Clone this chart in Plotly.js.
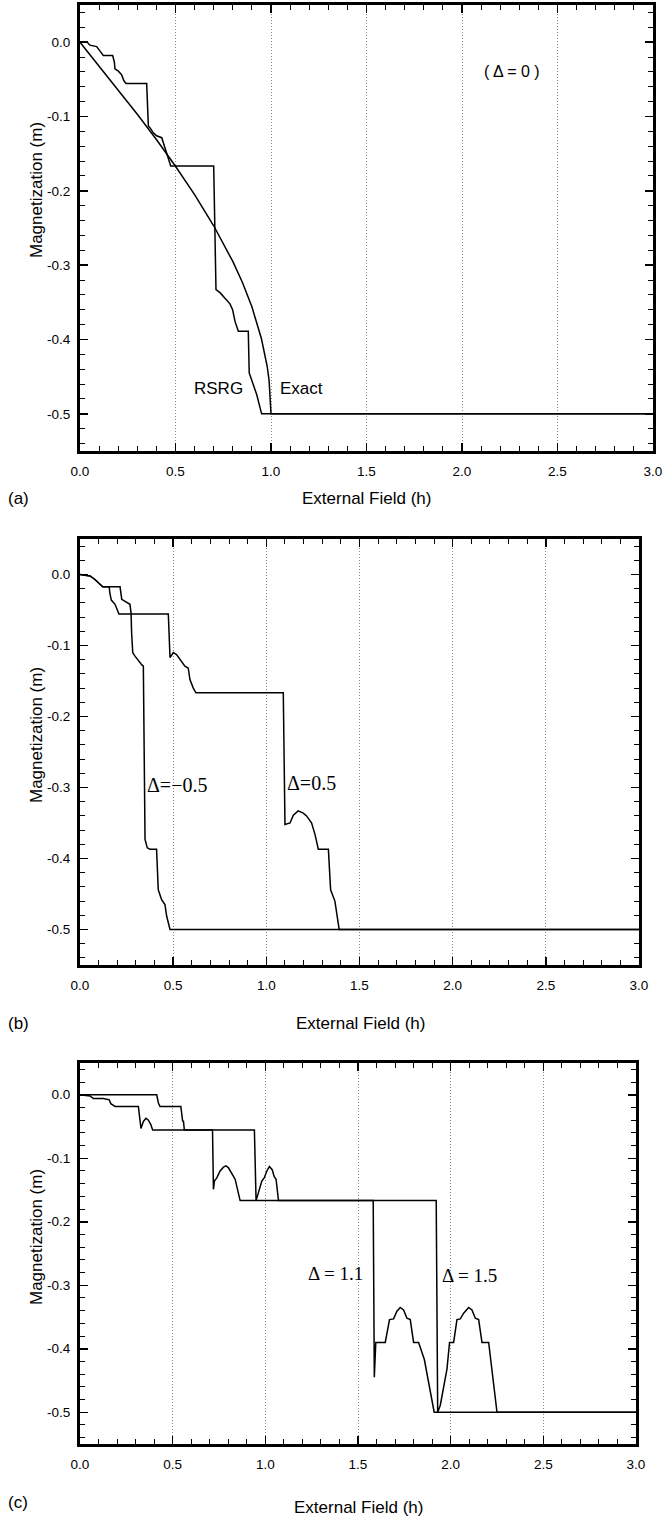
<!DOCTYPE html>
<html>
<head>
<meta charset="utf-8">
<script src="https://cdn.plot.ly/plotly-3.0.1.min.js"></script>
<style>html,body{margin:0;padding:0;background:#fff}#plot{width:663px;height:1520px}</style>
</head>
<body>
<div id="plot"></div>
<script>
// ---- tick labels ----
const xTickVals = [0, 0.5, 1, 1.5, 2, 2.5, 3];
const xTickText = ["0.0", "0.5", "1.0", "1.5", "2.0", "2.5", "3.0"];
const yTickVals = [0, -0.1, -0.2, -0.3, -0.4, -0.5];
const yTickText = ["0.0", "-0.1", "-0.2", "-0.3", "-0.4", "-0.5"];

// ---- panel (a): Delta = 0 ----
const exactH = [0, 0.1, 0.2, 0.3, 0.4, 0.5, 0.6, 0.7, 0.8, 0.85, 0.9, 0.95, 0.98, 0.99, 1.0, 3.0];
const exactM = [0, -0.032, -0.064, -0.097, -0.131, -0.167, -0.205, -0.247, -0.295, -0.323, -0.356, -0.399, -0.436, -0.455, -0.5, -0.5];
const rsrgH = [0, 0.038, 0.052, 0.087, 0.105, 0.122, 0.171, 0.180, 0.183, 0.201, 0.218, 0.230, 0.241, 0.349, 0.358, 0.366, 0.384, 0.401, 0.428, 0.436, 0.445, 0.462, 0.475, 0.700, 0.712, 0.733, 0.759, 0.785, 0.799, 0.812, 0.829, 0.881, 0.886, 0.907, 0.925, 0.951, 3.0];
const rsrgM = [0, 0, -0.004, -0.006, -0.012, -0.018, -0.018, -0.027, -0.036, -0.039, -0.044, -0.052, -0.0556, -0.0556, -0.113, -0.115, -0.122, -0.126, -0.1285, -0.135, -0.144, -0.158, -0.1667, -0.1667, -0.333, -0.337, -0.344, -0.352, -0.360, -0.376, -0.389, -0.389, -0.445, -0.461, -0.474, -0.5, -0.5];

// ---- panel (b): Delta = -0.5 and 0.5 ----
const hNeg05 = [0, 0.054, 0.080, 0.107, 0.122, 0.215, 0.224, 0.268, 0.274, 0.277, 0.283, 0.295, 0.308, 0.331, 0.340, 0.343, 0.349, 0.361, 0.376, 0.411, 0.415, 0.420, 0.438, 0.456, 0.465, 0.483, 3.0];
const mNeg05 = [0, -0.002, -0.007, -0.014, -0.0174, -0.0174, -0.035, -0.042, -0.054, -0.082, -0.110, -0.115, -0.120, -0.127, -0.129, -0.223, -0.373, -0.385, -0.387, -0.387, -0.411, -0.444, -0.458, -0.465, -0.481, -0.5, -0.5];
const hPos05 = [0, 0.054, 0.080, 0.107, 0.122, 0.157, 0.160, 0.168, 0.188, 0.209, 0.474, 0.483, 0.501, 0.519, 0.545, 0.563, 0.581, 0.590, 0.608, 0.622, 1.091, 1.100, 1.127, 1.145, 1.171, 1.198, 1.216, 1.243, 1.261, 1.279, 1.333, 1.338, 1.345, 1.368, 1.381, 1.391, 3.0];
const mPos05 = [0, -0.002, -0.007, -0.014, -0.0174, -0.0174, -0.026, -0.036, -0.042, -0.0556, -0.0556, -0.117, -0.110, -0.113, -0.122, -0.129, -0.132, -0.148, -0.160, -0.1667, -0.1667, -0.352, -0.350, -0.339, -0.333, -0.336, -0.340, -0.350, -0.366, -0.387, -0.387, -0.411, -0.444, -0.460, -0.481, -0.5, -0.5];

// ---- panel (c): Delta = 1.1 and 1.5 ----
const h11 = [0, 0.054, 0.072, 0.126, 0.158, 0.166, 0.176, 0.189, 0.315, 0.320, 0.329, 0.342, 0.356, 0.369, 0.382, 0.392, 0.715, 0.720, 0.725, 0.738, 0.756, 0.774, 0.788, 0.801, 0.819, 0.837, 0.864, 1.582, 1.588, 1.596, 1.647, 1.670, 1.692, 1.710, 1.728, 1.746, 1.764, 1.782, 1.800, 1.827, 1.858, 1.881, 1.899, 1.911, 3.0];
const m11 = [0, -0.002, -0.006, -0.006, -0.008, -0.014, -0.016, -0.0185, -0.0185, -0.030, -0.053, -0.042, -0.037, -0.040, -0.047, -0.0556, -0.0556, -0.149, -0.136, -0.131, -0.120, -0.114, -0.112, -0.115, -0.123, -0.133, -0.1667, -0.1667, -0.445, -0.390, -0.390, -0.354, -0.353, -0.341, -0.335, -0.339, -0.352, -0.354, -0.390, -0.390, -0.417, -0.453, -0.479, -0.5, -0.5];
const h15 = [0, 0.414, 0.423, 0.432, 0.544, 0.549, 0.554, 0.558, 0.563, 0.941, 0.950, 0.981, 0.994, 1.008, 1.022, 1.037, 1.048, 1.058, 1.071, 1.922, 1.930, 1.944, 1.962, 1.980, 1.994, 2.016, 2.034, 2.052, 2.070, 2.097, 2.115, 2.133, 2.151, 2.169, 2.205, 2.228, 2.250, 3.0];
const m15 = [0, 0, -0.013, -0.0185, -0.0185, -0.037, -0.042, -0.041, -0.0556, -0.0556, -0.1667, -0.136, -0.131, -0.120, -0.113, -0.118, -0.129, -0.133, -0.1667, -0.1667, -0.5, -0.489, -0.463, -0.432, -0.390, -0.390, -0.354, -0.353, -0.344, -0.335, -0.339, -0.352, -0.354, -0.390, -0.390, -0.443, -0.5, -0.5];

const W = 663, H = 1520;
const SANS = "Liberation Sans, Arial, sans-serif";
const SERIF = "Liberation Serif, Times New Roman, serif";
const lineStyle = {color: "#000", width: 1.5};

function tr(x, y, xa, ya) {
  return {x: x, y: y, xaxis: xa, yaxis: ya, type: "scatter", mode: "lines", line: lineStyle, hoverinfo: "skip"};
}
const data = [
  tr(exactH, exactM, "x", "y"),
  tr(rsrgH, rsrgM, "x", "y"),
  tr(hNeg05, mNeg05, "x2", "y2"),
  tr(hPos05, mPos05, "x2", "y2"),
  tr(h11, m11, "x3", "y3"),
  tr(h15, m15, "x3", "y3")
];

function xAx(px0, px1, anchor) {
  return {
    domain: [px0 / W, px1 / W], anchor: anchor, range: [0, 3],
    tickmode: "array", tickvals: xTickVals, ticktext: xTickText,
    ticks: "inside", ticklen: 8, tickwidth: 1.5, tickcolor: "#000",
    showline: true, linewidth: 3, linecolor: "#000", mirror: "allticks",
    showgrid: true, gridcolor: "#8a8a8a", griddash: "1px,2px", gridwidth: 1,
    zeroline: false, ticklabelstandoff: 6,
    tickfont: {family: SANS, size: 13.5, color: "#000"},
    minor: {tickmode: "linear", tick0: 0, dtick: 0.1, ticks: "inside", ticklen: 5, tickwidth: 1, tickcolor: "#000", showgrid: false}
  };
}
function yAx(py0, py1, anchor) {
  return {
    domain: [1 - py1 / H, 1 - py0 / H], anchor: anchor, range: [-0.55, 0.05],
    tickmode: "array", tickvals: yTickVals, ticktext: yTickText,
    ticks: "inside", ticklen: 8, tickwidth: 1.5, tickcolor: "#000",
    showline: true, linewidth: 3, linecolor: "#000", mirror: "allticks",
    showgrid: false, zeroline: false, ticklabelstandoff: 4,
    tickfont: {family: SANS, size: 13.5, color: "#000"},
    minor: {tickmode: "linear", tick0: 0, dtick: 0.02, ticks: "inside", ticklen: 5, tickwidth: 1, tickcolor: "#000", showgrid: false}
  };
}

function pAnn(text, px, py, opts) {
  return Object.assign({text: text, xref: "paper", yref: "paper", x: px / W, y: 1 - py / H,
    xanchor: "center", yanchor: "middle", showarrow: false,
    font: {family: SANS, size: 17, color: "#000"}}, opts || {});
}
function dAnn(text, x, y, xr, yr, font) {
  return {text: text, xref: xr, yref: yr, x: x, y: y, xanchor: "center", yanchor: "middle",
    showarrow: false, font: font};
}

const annotations = [
  pAnn("External Field (h)", 366, 498),
  pAnn("External Field (h)", 360, 1023),
  pAnn("External Field (h)", 358, 1507),
  pAnn("(a)", 18, 498),
  pAnn("(b)", 18, 1023),
  pAnn("(c)", 18, 1502),
  pAnn("Magnetization (m)", 36, 190, {textangle: -90}),
  pAnn("Magnetization (m)", 36, 735, {textangle: -90}),
  pAnn("Magnetization (m)", 36, 1237, {textangle: -90}),
  dAnn("RSRG", 0.723, -0.466, "x", "y", {family: SANS, size: 17, color: "#000"}),
  dAnn("Exact", 1.162, -0.466, "x", "y", {family: SANS, size: 17, color: "#000"}),
  dAnn("( Δ = 0 )", 2.26, -0.040, "x", "y", {family: SANS, size: 16, color: "#000"}),
  dAnn("Δ=−0.5", 0.52, -0.297, "x2", "y2", {family: SERIF, size: 20, color: "#000"}),
  dAnn("Δ=0.5", 1.245, -0.294, "x2", "y2", {family: SERIF, size: 20, color: "#000"}),
  dAnn("Δ = 1.1", 1.377, -0.281, "x3", "y3", {family: SERIF, size: 19, color: "#000"}),
  dAnn("Δ = 1.5", 2.100, -0.284, "x3", "y3", {family: SERIF, size: 19, color: "#000"})
];

const layout = {
  width: W, height: H, margin: {l: 0, r: 0, t: 0, b: 0},
  paper_bgcolor: "#fff", plot_bgcolor: "#fff", showlegend: false,
  xaxis: xAx(80, 653, "y"), yaxis: yAx(5, 451, "x"),
  xaxis2: xAx(80, 639, "y2"), yaxis2: yAx(539, 965, "x2"),
  xaxis3: xAx(80, 636, "y3"), yaxis3: yAx(1063, 1444, "x3"),
  annotations: annotations
};

Plotly.newPlot("plot", data, layout, {staticPlot: true, displayModeBar: false});
</script>
</body>
</html>
